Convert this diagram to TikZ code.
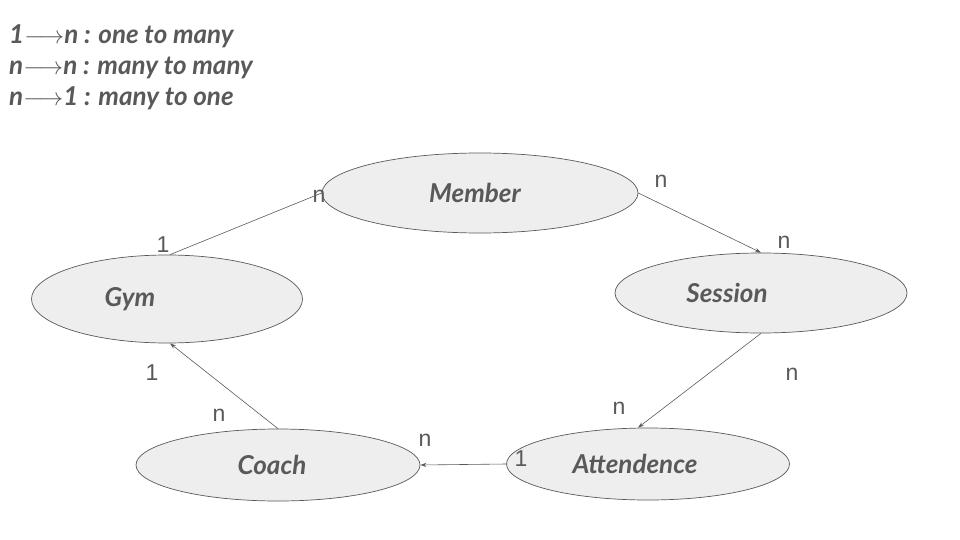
\documentclass[tikz,border=0pt]{standalone}
\usepackage{fontspec}
\setmainfont{Liberation Sans}
\newfontfamily\handfont{Lato}
\usepackage{xcolor}
\usetikzlibrary{shapes.geometric,arrows.meta,positioning}

\definecolor{linegray}{HTML}{595959}
\definecolor{fillgray}{HTML}{EEEEEE}
\definecolor{textgray}{HTML}{595959}

\begin{document}
\begin{tikzpicture}[x=1pt,y=-1pt,
    entity/.style={ellipse,draw=linegray,fill=fillgray,line width=0.7pt,inner sep=0pt,
      text=textgray,font=\handfont\bfseries\itshape\fontsize{26}{28}\selectfont},
    card/.style={text=textgray,inner sep=0pt,font=\fontsize{23}{26}\selectfont},
    rel/.style={draw=linegray,line width=0.6pt,-{Stealth[length=6pt,width=4pt]}}]
    \useasboundingbox (0,0) rectangle (960,540);

    % Legend
    \node[anchor=north west,align=left,inner sep=0pt,text=textgray,
          font=\handfont\bfseries\itshape\fontsize{26}{31}\selectfont] (legend) at (9,24)
        {1$\longrightarrow$n : one to many\\
         n$\longrightarrow$n : many to many\\
         n$\longrightarrow$1 : many to one};

    % Entities
    \node[entity,minimum width=316pt,minimum height=80pt] (member) at (480,193) {Member\hspace*{10pt}};
    \node[entity,minimum width=271pt,minimum height=88pt] (gym) at (167,299) {Gym\hspace*{74pt}};
    \node[entity,minimum width=292pt,minimum height=80pt] (session) at (761,293) {Session\hspace*{68pt}};
    \node[entity,minimum width=284pt,minimum height=72pt] (coach) at (278,465) {Coach\hspace*{12pt}};
    \node[entity,minimum width=283pt,minimum height=72pt] (attend) at (648,464) {Attendence\hspace*{26pt}};

    % Relations
    \draw[draw=linegray,line width=0.6pt] ([xshift=3pt]gym.north) -- (member.west);
    \draw[rel] (member.east) -- (session.north);
    \draw[rel] (session.south) -- ([xshift=-10pt]attend.north);
    \draw[rel] (attend.west) -- (coach.east);
    \draw[rel] (coach.north) -- ([xshift=3pt]gym.south);

    % Cardinalities
    \node[card] (c1) at (163,245) {1};
    \node[card] (c2) at (319,196) {n};
    \node[card] (c3) at (661,181) {n};
    \node[card] (c4) at (784,242) {n};
    \node[card] (c5) at (792,374) {n};
    \node[card] (c6) at (619,408) {n};
    \node[card] (c7) at (425,440) {n};
    \node[card] (c8) at (521,459) {1};
    \node[card] (c9) at (152,373) {1};
    \node[card] (c10) at (219,415) {n};
\end{tikzpicture}
\end{document}
